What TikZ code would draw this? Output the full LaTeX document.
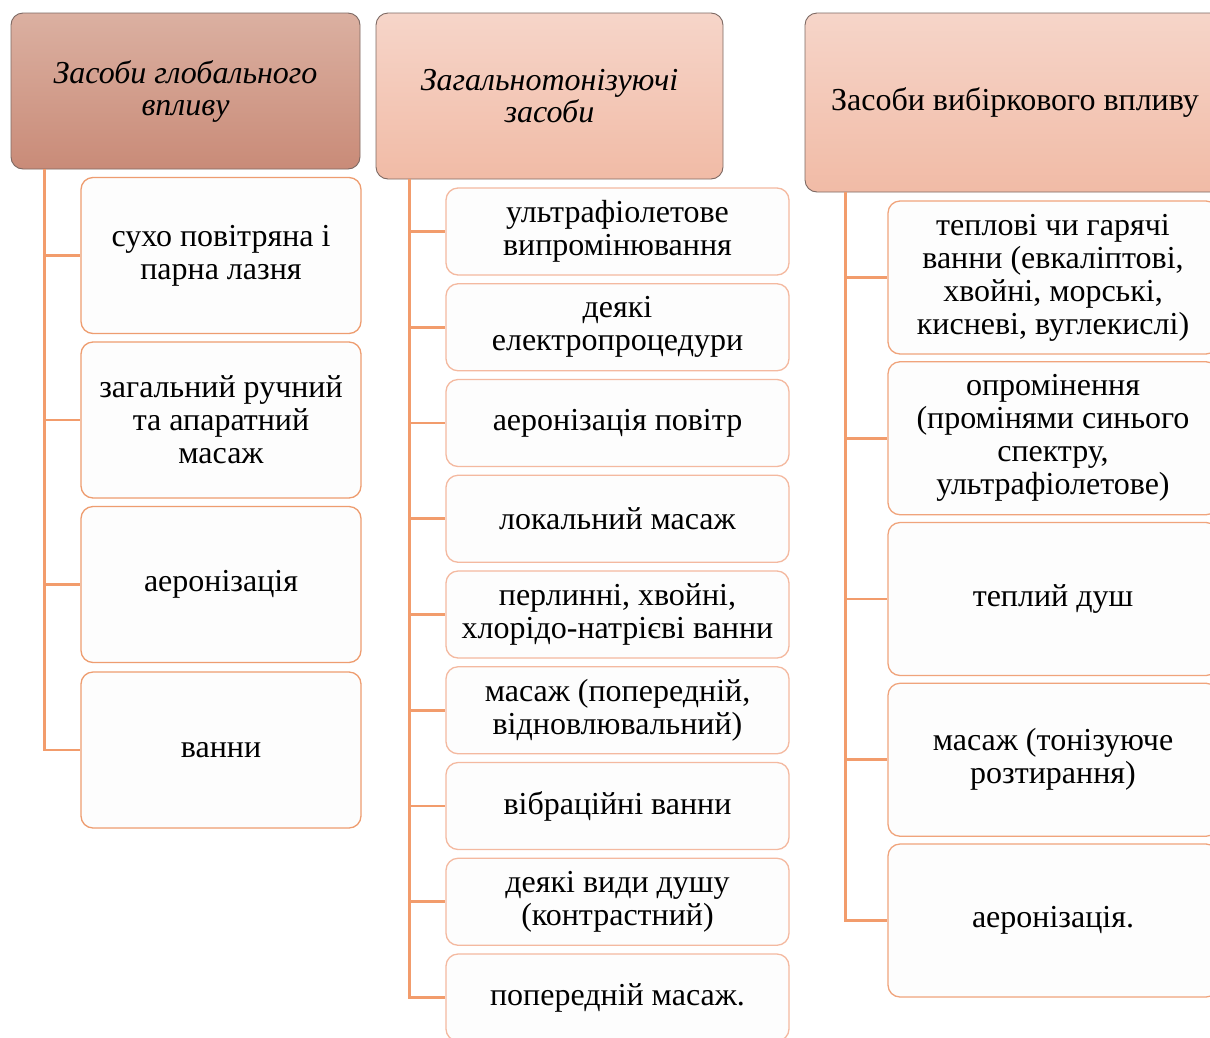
\documentclass[tikz,border=0pt]{standalone}
\usepackage{fontspec}
\setmainfont{Liberation Serif}
\usepackage{tikz}
\usetikzlibrary{positioning,calc}
\definecolor{cHdrDarkTop}{HTML}{DBB0A1}
\definecolor{cHdrDarkBot}{HTML}{C98B78}
\definecolor{cHdrTop}{HTML}{F6D5C9}
\definecolor{cHdrBot}{HTML}{F1BBA6}
\definecolor{cHdrLine}{HTML}{7D6963}
\definecolor{cItemA}{HTML}{EE9D70}
\definecolor{cItemB}{HTML}{F4B9A0}
\definecolor{cItemC}{HTML}{F0A47C}
\definecolor{cItemFill}{HTML}{FDFDFD}
\definecolor{cCon}{HTML}{F29C6C}
\tikzset{
  hdr/.style={rounded corners=12pt, draw=cHdrLine, line width=0.9pt, align=center,
              inner sep=4pt, font=\fontsize{32}{32}\selectfont},
  hdrdark/.style={hdr, top color=cHdrDarkTop, bottom color=cHdrDarkBot},
  hdrlight/.style={hdr, top color=cHdrTop, bottom color=cHdrBot},
  item/.style={rounded corners=12pt, draw, line width=1.3pt, fill=cItemFill,
               align=center, inner sep=2pt, font=\fontsize{32}{33}\selectfont},
  itema/.style={item, draw=cItemA, minimum width=280pt, minimum height=156pt},
  itemb/.style={item, draw=cItemB, minimum width=343pt, minimum height=87pt},
  itemc/.style={item, draw=cItemC, minimum width=330pt, minimum height=153pt},
  con/.style={draw=cCon, line width=2.6pt},
}

\begin{document}
\begin{tikzpicture}[x=1pt, y=-1pt]
    \clip (0,0) rectangle (1210,1037);
    \fill[white] (0,0) rectangle (1210,1037);

    % --- headers ---
    \node[hdrdark, minimum width=349pt, minimum height=156pt] (h1) at (185.5,91)
      {\itshape Засоби глобального\\\itshape впливу};
    \node[hdrlight, minimum width=347pt, minimum height=166pt] (h2) at (549.5,96)
      {\itshape Загальнотонізуючі\\\itshape засоби};
    \node[hdrlight, minimum width=420pt, minimum height=179pt] (h3) at (1015,102.5)
      {Засоби вибіркового впливу};

    % --- global column ---
    \foreach \i/\yy/\txt in {1/255.5/{сухо повітряна і\\парна лазня},
                             2/420/{загальний ручний\\та апаратний\\масаж},
                             3/584.5/{аеронізація},
                             4/750/{ванни}}
      \node[itema] (a\i) at (221,\yy) {\txt};

    % --- tonic column ---
    \foreach \i/\txt in {1/{ультрафіолетове\\випромінювання},
                         2/{деякі\\електропроцедури},
                         3/{аеронізація повітр},
                         4/{локальний масаж},
                         5/{перлинні, хвойні,\\хлорідо-натрієві ванни},
                         6/{масаж (попередній,\\відновлювальний)},
                         7/{вібраційні ванни},
                         8/{деякі види душу\\(контрастний)},
                         9/{попередній масаж.}}
      \node[itemb] (b\i) at (617.5,{231.5+95.75*(\i-1)}) {\txt};

    % --- selective column ---
    \foreach \i/\txt in {1/{теплові чи гарячі\\ванни (евкаліптові,\\хвойні, морські,\\кисневі, вуглекислі)},
                         2/{опромінення\\(промінями синього\\спектру,\\ультрафіолетове)},
                         3/{теплий душ},
                         4/{масаж (тонізуюче\\розтирання)},
                         5/{аеронізація.}}
      \node[itemc] (c\i) at (1053,{277.5+160.75*(\i-1)}) {\txt};

    % --- connectors ---
    \coordinate (sa) at ($(h1.south west)+(34,0)$);
    \coordinate (sb) at ($(h2.south west)+(34,0)$);
    \coordinate (sc) at ($(h3.south west)+(41,0)$);
    \draw[con] (sa) |- (a4.west);
    \draw[con] (sb) |- (b9.west);
    \draw[con] (sc) |- (c5.west);
    \foreach \i in {1,...,3} \draw[con] (sa |- a\i.west) -- (a\i.west);
    \foreach \i in {1,...,8} \draw[con] (sb |- b\i.west) -- (b\i.west);
    \foreach \i in {1,...,4} \draw[con] (sc |- c\i.west) -- (c\i.west);
  \end{tikzpicture}
\end{document}
